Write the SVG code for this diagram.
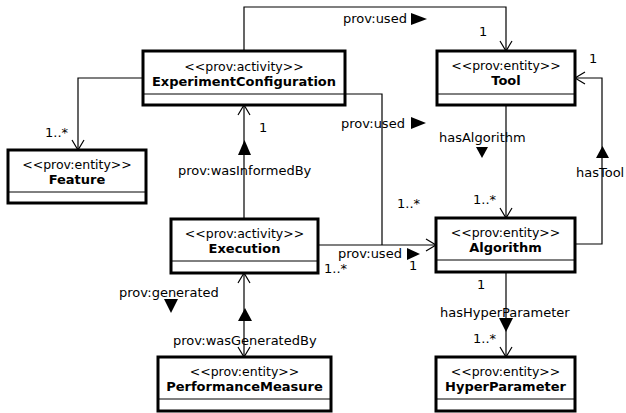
<svg xmlns="http://www.w3.org/2000/svg" width="626" height="413" viewBox="0 0 626 413">
<style>
.box{fill:#fff;stroke:#000;stroke-width:3}
.div{stroke:#000;stroke-width:1}
.st{font-family:"DejaVu Sans",sans-serif;font-size:12.5px;text-anchor:middle;fill:#000}
.nm{font-family:"DejaVu Sans",sans-serif;font-size:13px;font-weight:bold;text-anchor:middle;fill:#000}
.lbl{font-family:"DejaVu Sans",sans-serif;font-size:13px;fill:#000}
.ln{fill:none;stroke:#000;stroke-width:1.2}
.tri{fill:#000}
</style>
<rect width="626" height="413" fill="#fff"/>
<g id="connectors">
  <!-- EC -> Tool prov:used -->
  <polyline class="ln" points="244,51 244,7 506,7 506,51"/>
  <polyline class="ln" points="500,41 506,51 512,41"/>
  <text class="lbl" x="343" y="23">prov:used</text>
  <polygon class="tri" points="411,13 411,25 427,19"/>
  <text class="lbl" x="479" y="36">1</text>
  <!-- EC -> Feature -->
  <polyline class="ln" points="143,78 78,78 78,150"/>
  <polyline class="ln" points="72,140 78,150 84,140"/>
  <text class="lbl" x="45" y="137">1..*</text>
  <!-- Execution -> EC wasInformedBy -->
  <line class="ln" x1="244" y1="219" x2="244" y2="105"/>
  <polyline class="ln" points="238,115 244,105 250,115"/>
  <text class="lbl" x="259" y="132">1</text>
  <polygon class="tri" points="238,155 251,155 244.5,140"/>
  <text class="lbl" x="178" y="175">prov:wasInformedBy</text>
  <!-- EC -> Algorithm prov:used -->
  <polyline class="ln" points="345,94 382,94 382,245"/>
  <text class="lbl" x="341" y="128">prov:used</text>
  <polygon class="tri" points="411,117 411,129 426,123"/>
  <text class="lbl" x="397" y="208">1..*</text>
  <!-- Execution -> Algorithm prov:used -->
  <line class="ln" x1="318" y1="245" x2="436" y2="245"/>
  <polyline class="ln" points="426,239 436,245 426,251"/>
  <text class="lbl" x="338" y="258">prov:used</text>
  <polygon class="tri" points="407,248 407,260 420,254"/>
  <text class="lbl" x="324" y="273">1..*</text>
  <text class="lbl" x="409" y="270">1</text>
  <!-- Tool -> Algorithm hasAlgorithm -->
  <line class="ln" x1="506" y1="105" x2="506" y2="218"/>
  <polyline class="ln" points="500,208 506,218 512,208"/>
  <text class="lbl" x="439" y="142">hasAlgorithm</text>
  <polygon class="tri" points="476,147 488,147 482,158"/>
  <text class="lbl" x="473" y="204">1..*</text>
  <!-- Algorithm -> Tool hasTool -->
  <polyline class="ln" points="575,244 602,244 602,78 575,78"/>
  <polyline class="ln" points="585,72 575,78 585,84"/>
  <text class="lbl" x="589" y="63">1</text>
  <polygon class="tri" points="596,158 609,158 602.5,146"/>
  <text class="lbl" x="576" y="177">hasTool</text>
  <!-- Algorithm -> HyperParameter -->
  <line class="ln" x1="506" y1="272" x2="506" y2="357"/>
  <polyline class="ln" points="500,347 506,357 512,347"/>
  <text class="lbl" x="477" y="289">1</text>
  <text class="lbl" x="440" y="317">hasHyperParameter</text>
  <polygon class="tri" points="499,318 513,318 506,332"/>
  <text class="lbl" x="473" y="343">1..*</text>
  <!-- Execution <-> PerformanceMeasure -->
  <line class="ln" x1="244" y1="273" x2="244" y2="357"/>
  <polyline class="ln" points="238,283 244,273 250,283"/>
  <polyline class="ln" points="238,347 244,357 250,347"/>
  <text class="lbl" x="119" y="297">prov:generated</text>
  <polygon class="tri" points="164,299 178,299 171,313"/>
  <polygon class="tri" points="238,321 252,321 245,308"/>
  <text class="lbl" x="173" y="345">prov:wasGeneratedBy</text>
</g>
<g id="ExperimentConfiguration">
  <rect class="box" x="143" y="51" width="202" height="54"/>
  <line class="div" x1="143" y1="94" x2="345" y2="94"/>
  <text class="st" x="244" y="71">&lt;&lt;prov:activity&gt;&gt;</text>
  <text class="nm" x="244" y="86">ExperimentConfiguration</text>
</g>
<g id="Feature">
  <rect class="box" x="8" y="150" width="138" height="53"/>
  <line class="div" x1="8" y1="192" x2="146" y2="192"/>
  <text class="st" x="77" y="169">&lt;&lt;prov:entity&gt;&gt;</text>
  <text class="nm" x="77" y="184">Feature</text>
</g>
<g id="Tool">
  <rect class="box" x="437" y="51" width="138" height="54"/>
  <line class="div" x1="437" y1="94" x2="575" y2="94"/>
  <text class="st" x="506" y="70">&lt;&lt;prov:entity&gt;&gt;</text>
  <text class="nm" x="506" y="85">Tool</text>
</g>
<g id="Algorithm">
  <rect class="box" x="436" y="218" width="139" height="54"/>
  <line class="div" x1="436" y1="260" x2="575" y2="260"/>
  <text class="st" x="505.5" y="237">&lt;&lt;prov:entity&gt;&gt;</text>
  <text class="nm" x="505.5" y="252">Algorithm</text>
</g>
<g id="Execution">
  <rect class="box" x="171" y="219" width="147" height="54"/>
  <line class="div" x1="171" y1="261" x2="318" y2="261"/>
  <text class="st" x="244.5" y="238">&lt;&lt;prov:activity&gt;&gt;</text>
  <text class="nm" x="244.5" y="253">Execution</text>
</g>
<g id="HyperParameter">
  <rect class="box" x="436" y="357" width="139" height="54"/>
  <line class="div" x1="436" y1="399" x2="575" y2="399"/>
  <text class="st" x="505.5" y="376">&lt;&lt;prov:entity&gt;&gt;</text>
  <text class="nm" x="505.5" y="391">HyperParameter</text>
</g>
<g id="PerformanceMeasure">
  <rect class="box" x="158" y="357" width="173" height="54"/>
  <line class="div" x1="158" y1="399" x2="331" y2="399"/>
  <text class="st" x="244.5" y="376">&lt;&lt;prov:entity&gt;&gt;</text>
  <text class="nm" x="244.5" y="391">PerformanceMeasure</text>
</g>
</svg>
